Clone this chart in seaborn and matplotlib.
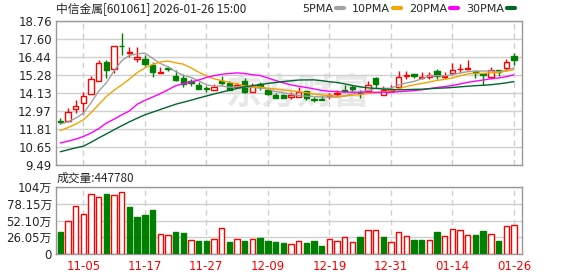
import matplotlib
matplotlib.use("Agg")
import matplotlib.pyplot as plt
from matplotlib.lines import Line2D
import numpy as np
import seaborn as sns

# daily bars 2025-10-31 .. 2026-01-26 (60 trading days)
opens = [12.31, 12.33, 13.12, 13.48, 14.08, 14.92, 16.11, 15.69, 17.18, 16.67,
         16.30, 16.33, 15.90, 15.39, 15.73, 15.20, 15.12, 14.90, 14.63, 14.42,
         14.29, 14.90, 14.75, 14.54, 14.90, 14.16, 14.69, 14.31, 14.01, 13.97,
         13.88, 13.84, 14.25, 13.74, 13.74, 13.90, 14.05, 14.31, 14.52, 14.14,
         14.25, 15.12, 14.01, 14.27, 14.52, 15.25, 15.37, 15.10, 15.16, 15.52,
         15.16, 15.39, 15.67, 15.65, 15.54, 15.35, 15.16, 15.63, 15.71, 16.52]
closes = [12.29, 12.93, 13.27, 13.91, 15.03, 16.05, 15.63, 17.13, 17.15, 16.79,
          16.45, 15.97, 15.45, 15.50, 15.69, 14.95, 14.73, 14.80, 14.39, 14.37,
          14.52, 14.80, 14.35, 14.63, 14.18, 14.56, 14.52, 14.03, 13.82, 13.80,
          13.99, 14.20, 13.80, 13.69, 13.68, 13.97, 14.10, 14.27, 14.39, 14.10,
          14.65, 14.69, 14.33, 14.37, 15.16, 15.31, 15.20, 15.16, 15.31, 15.22,
          15.24, 15.61, 15.70, 15.72, 15.39, 15.27, 15.61, 15.46, 16.11, 16.22]
highs = [12.50, 13.18, 13.69, 14.16, 15.24, 16.22, 16.28, 17.16, 17.98, 17.11,
         17.09, 16.58, 16.11, 15.82, 15.86, 15.63, 15.33, 15.03, 14.86, 14.56,
         14.73, 15.20, 14.90, 14.80, 15.12, 14.80, 14.82, 14.42, 14.12, 14.05,
         14.18, 14.52, 14.27, 13.88, 14.01, 14.12, 14.29, 14.67, 14.65, 14.31,
         14.90, 15.16, 14.56, 14.63, 15.54, 15.54, 15.37, 15.50, 15.50, 15.67,
         15.46, 16.07, 16.01, 16.22, 15.54, 15.44, 15.78, 15.63, 16.33, 16.71]
lows = [12.12, 12.29, 12.84, 12.76, 14.03, 14.88, 15.09, 15.41, 16.58, 16.47,
        16.09, 15.84, 15.14, 15.39, 15.52, 14.90, 14.52, 14.59, 14.39, 14.20,
        14.29, 14.65, 14.31, 14.48, 14.12, 14.16, 14.31, 13.97, 13.80, 13.80,
        13.71, 13.84, 13.69, 13.52, 13.65, 13.71, 13.93, 14.20, 14.27, 13.80,
        14.25, 14.44, 13.97, 14.22, 14.48, 15.05, 15.10, 15.01, 15.05, 15.05,
        15.01, 15.31, 15.39, 15.61, 15.10, 14.65, 15.10, 15.20, 15.63, 15.95]
# volume in 万 (10k shares)
volume = [34, 50.7, 74.5, 62, 94, 88, 93, 91, 97, 73.5,
          58, 61, 68, 31, 29, 34, 32.6, 21.7, 20.7, 20.7,
          24, 40, 18.6, 24, 20.7, 22.8, 24.8, 20.7, 18.6, 16.6,
          15.5, 19.7, 17.6, 20.2, 12.4, 22.8, 20.2, 25.9, 18.6, 26.4,
          36.7, 36.7, 26.4, 18.6, 33.6, 28, 21.7, 21.7, 21.7, 34,
          28, 38.3, 36.7, 29.5, 29.5, 35.7, 31, 20.2, 43.5, 44.78]

ma5 = [12.12, 12.27, 12.50, 12.82, 13.49, 14.24, 14.78, 15.55, 16.20, 16.55,
       16.63, 16.70, 16.36, 16.03, 15.81, 15.51, 15.26, 15.13, 14.91, 14.65,
       14.56, 14.58, 14.49, 14.53, 14.50, 14.50, 14.45, 14.38, 14.22, 14.15,
       14.03, 13.97, 13.92, 13.90, 13.87, 13.87, 13.85, 13.94, 14.08, 14.17,
       14.30, 14.42, 14.43, 14.43, 14.64, 14.77, 14.87, 15.04, 15.23, 15.24,
       15.23, 15.31, 15.42, 15.50, 15.53, 15.54, 15.54, 15.49, 15.57, 15.73]
ma10 = [11.70, 11.90, 12.12, 12.40, 12.85, 13.38, 13.90, 14.30, 14.65, 15.02,
        15.43, 15.74, 15.96, 16.12, 16.18, 16.07, 15.98, 15.75, 15.47, 15.23,
        15.04, 14.92, 14.81, 14.72, 14.57, 14.53, 14.51, 14.44, 14.38, 14.32,
        14.27, 14.21, 14.15, 14.06, 14.01, 13.95, 13.91, 13.93, 13.99, 14.02,
        14.09, 14.13, 14.19, 14.26, 14.40, 14.54, 14.65, 14.74, 14.83, 14.94,
        15.00, 15.09, 15.23, 15.36, 15.39, 15.38, 15.42, 15.45, 15.53, 15.63]
ma20 = [10.91, 11.02, 11.15, 11.32, 11.55, 11.83, 12.19, 12.44, 12.72, 12.97,
        13.40, 13.65, 13.86, 14.08, 14.33, 14.59, 14.72, 14.83, 14.96, 15.12,
        15.24, 15.33, 15.38, 15.42, 15.38, 15.30, 15.25, 15.09, 14.93, 14.78,
        14.65, 14.56, 14.48, 14.39, 14.29, 14.24, 14.21, 14.18, 14.18, 14.17,
        14.18, 14.17, 14.17, 14.16, 14.21, 14.24, 14.28, 14.33, 14.41, 14.48,
        14.54, 14.61, 14.71, 14.81, 14.89, 14.96, 15.04, 15.09, 15.18, 15.29]
ma30 = [10.34, 10.47, 10.59, 10.70, 10.95, 11.23, 11.49, 11.76, 12.02, 12.27,
        12.50, 12.72, 12.89, 13.06, 13.23, 13.40, 13.53, 13.66, 13.80, 13.93,
        14.06, 14.18, 14.30, 14.42, 14.52, 14.60, 14.67, 14.74, 14.80, 14.86,
        14.91, 14.96, 14.97, 14.97, 14.92, 14.85, 14.80, 14.71, 14.61, 14.52,
        14.46, 14.42, 14.38, 14.35, 14.33, 14.34, 14.36, 14.37, 14.40, 14.43,
        14.45, 14.48, 14.52, 14.56, 14.60, 14.62, 14.66, 14.71, 14.78, 14.86]

date_labels = ["11-05", "11-17", "11-27", "12-09", "12-19", "12-31", "01-14", "01-26"]
date_idx = [3, 11, 19, 27, 35, 43, 51, 59]
price_ticks = ["9.49", "10.65", "11.81", "12.97", "14.13", "15.28", "16.44", "17.60", "18.76"]
vol_ticks = ["0", "26.05万", "52.10万", "78.15万", "104万"]
vol_max = 104.2

RED = "#ff0000"
GREEN = "#007f00"
GRID = "#d0d0d0"
ma_colors = ["#a0a0a0", "#f5a300", "#ff00ff", "#00662e"]
ma_names = ["5PMA", "10PMA", "20PMA", "30PMA"]

sns.set_theme(style="white")
plt.rcParams["font.family"] = ["DejaVu Sans", "Noto Sans CJK SC"]

W, H = 578, 276
fig = plt.figure(figsize=(W / 100, H / 100), dpi=100)
ax = fig.add_axes([56 / W, 1 - 165 / H, 466 / W, 144 / H])
axv = fig.add_axes([56 / W, 1 - 254 / H, 466 / W, 67 / H])

x = np.arange(len(closes))
o, c, h, l = map(np.array, (opens, closes, highs, lows))
rising = c >= o
cols = np.where(rising, RED, GREEN)

# candles
ax.vlines(x, l, h, colors=cols, lw=1, zorder=3)
ax.bar(x, np.maximum(np.abs(c - o), 0.005), bottom=np.minimum(o, c), width=0.7,
       color=np.where(rising, "white", GREEN), edgecolor=cols, linewidth=1, zorder=4)

for vals, col in zip([ma5, ma10, ma20, ma30], ma_colors):
    sns.lineplot(x=x, y=vals, ax=ax, color=col, lw=1, legend=False, zorder=5)

# volume coloured by change vs previous close
prev = np.concatenate([[o[0]], c[:-1]])
vup = c > prev
vcols = np.where(vup, RED, GREEN)
axv.bar(x, volume, width=0.7, color=np.where(vup, "white", GREEN),
        edgecolor=vcols, linewidth=1, zorder=3)

ax.text(0.52, 0.5, "东方财富", transform=ax.transAxes, ha="center", va="center",
        fontsize=26, fontweight="bold", color="#e8e8e8", zorder=0,
        family=["Noto Sans CJK SC"])

for a in (ax, axv):
    a.set_xlim(-0.55, 60.05)
    a.set_xticks(date_idx)
    a.grid(True, axis="x", color=GRID, ls=(0, (4, 3)), lw=1)
    a.grid(True, axis="y", color=GRID, ls="-", lw=1)
    a.set_axisbelow(True)
    for s in a.spines.values():
        s.set_color("#999999")
        s.set_linewidth(1)
    a.tick_params(length=0, labelsize=8.5, pad=3)

ax.set_ylim(9.49, 18.76)
ax.set_yticks(np.linspace(9.49, 18.76, 9))
ax.set_yticklabels(price_ticks)
ax.set_xticklabels([])

axv.set_ylim(0, vol_max)
axv.set_yticks(np.linspace(0, vol_max, 5))
axv.set_yticklabels(vol_ticks)
axv.set_xticklabels(date_labels, color=RED)
axv.tick_params(axis="x", pad=4)

fig.text(56 / W, 1 - 9 / H, "中信金属[601061] 2026-01-26 15:00", va="center",
         fontsize=8.5, family=["Noto Sans CJK SC", "DejaVu Sans"])
fig.text(57 / W, 1 - 178 / H, "成交量:447780", va="center", fontsize=8.5,
         family=["Noto Sans CJK SC", "DejaVu Sans"])

handles = [Line2D([0], [0], color=col, lw=3) for col in ma_colors]
fig.legend(handles, ma_names, loc="center right", bbox_to_anchor=(515 / W, 1 - 9 / H),
           ncol=4, markerfirst=False, frameon=False, handlelength=0.7,
           handletextpad=0.3, columnspacing=0.7, fontsize=8, borderpad=0,
           borderaxespad=0)

fig.savefig("out.png", dpi=100)
